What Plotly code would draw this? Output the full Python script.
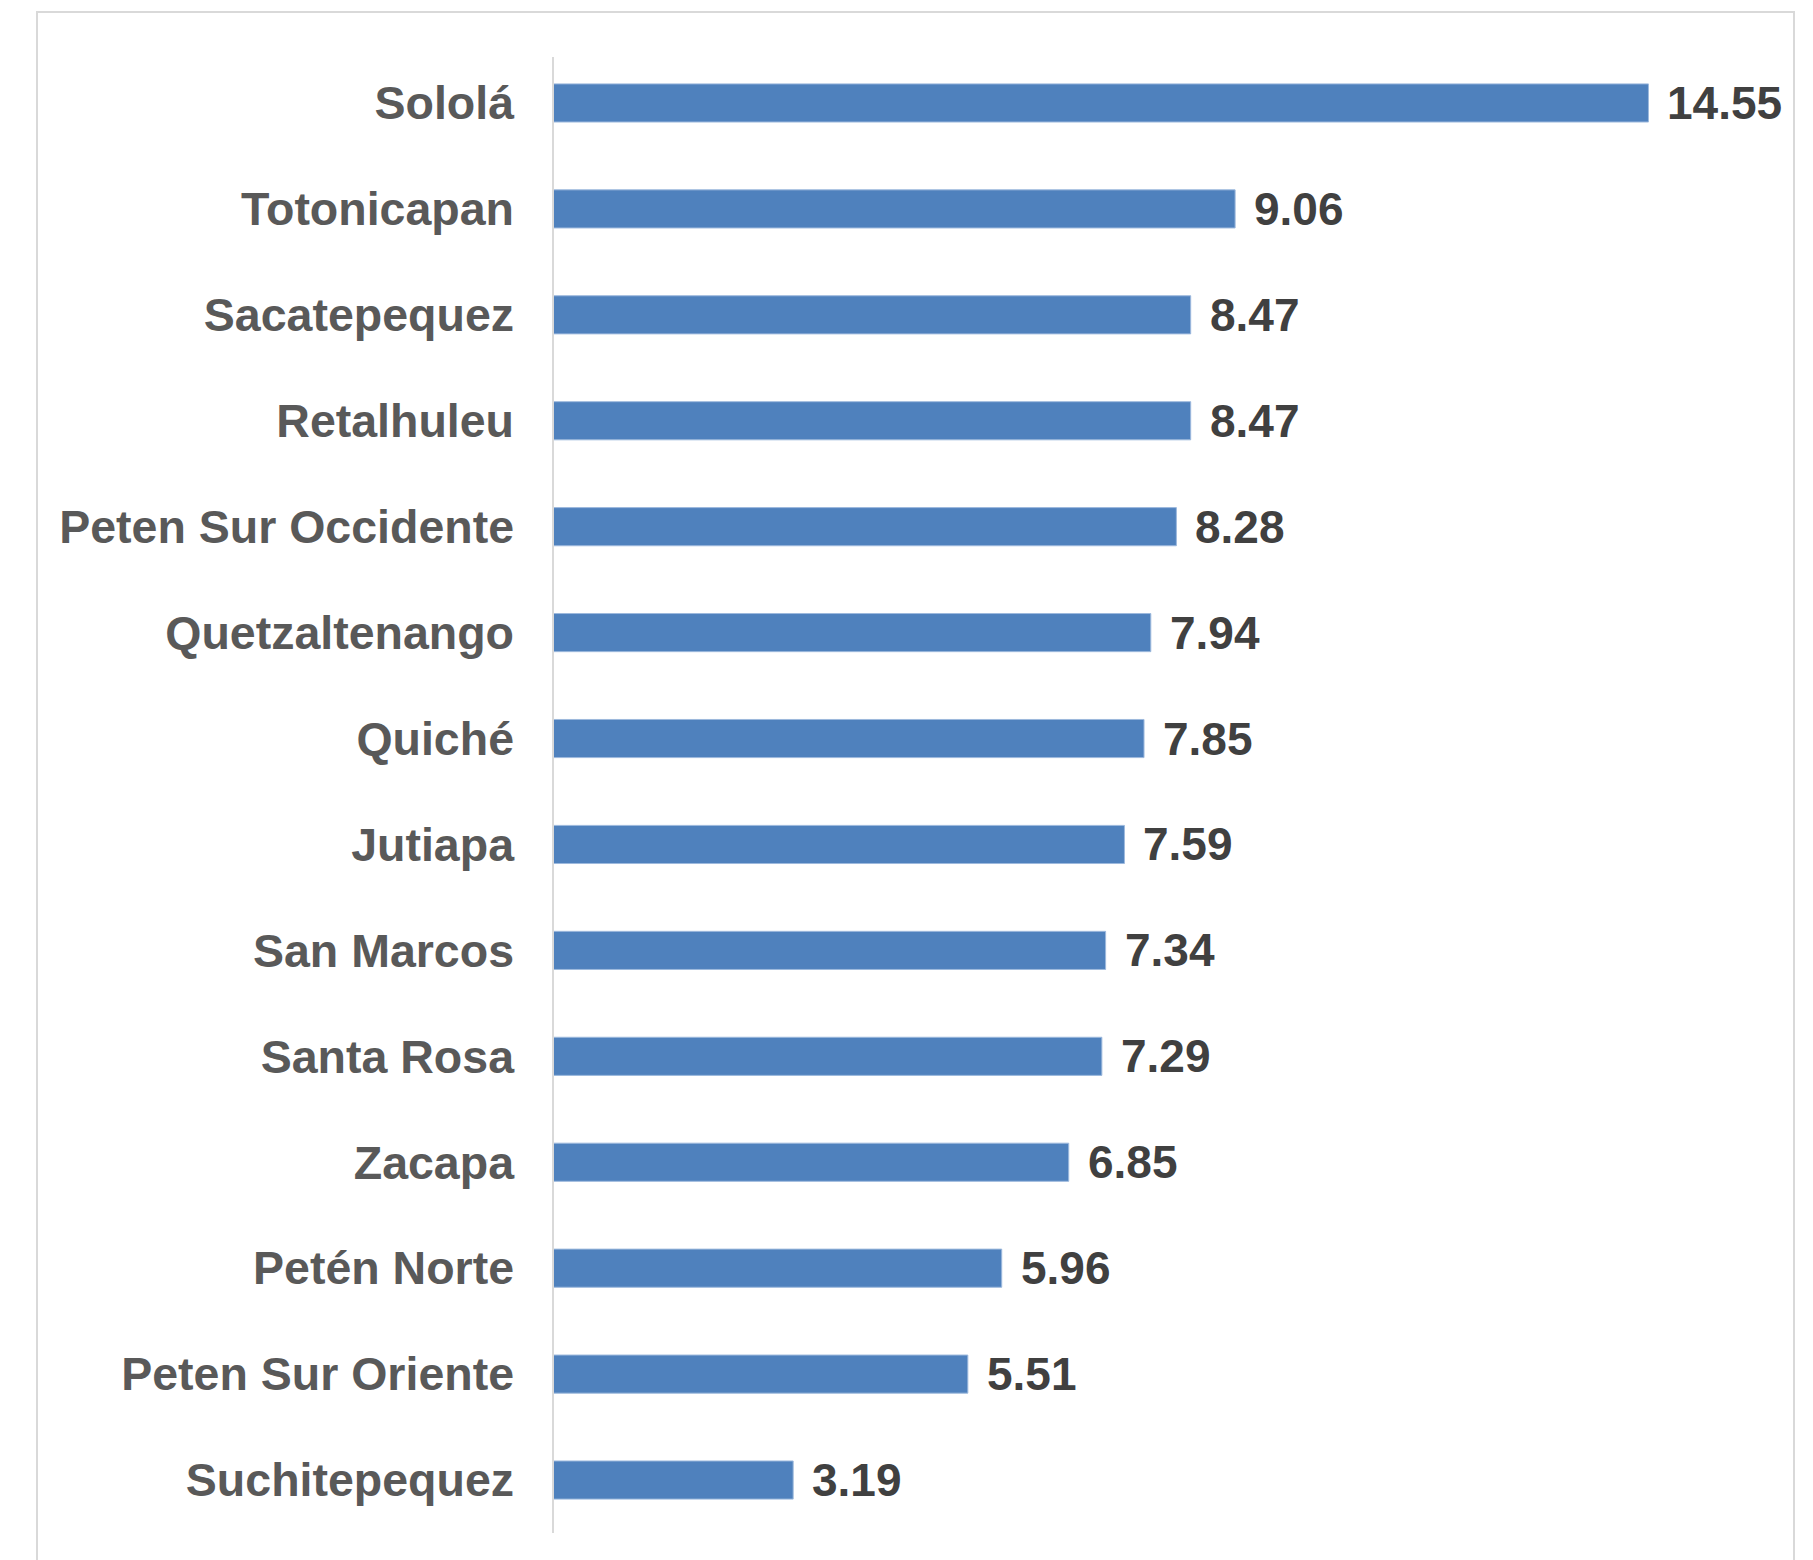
import plotly.graph_objects as go

categories = ["Sololá", "Totonicapan", "Sacatepequez", "Retalhuleu", "Peten Sur Occidente",
              "Quetzaltenango", "Quiché", "Jutiapa", "San Marcos", "Santa Rosa", "Zacapa",
              "Petén Norte", "Peten Sur Oriente", "Suchitepequez"]
values = [14.55, 9.06, 8.47, 8.47, 8.28, 7.94, 7.85, 7.59, 7.34, 7.29, 6.85, 5.96, 5.51, 3.19]
value_labels = [f"{v:.2f}" for v in values]

OFF = 8  # default page body margin
W, H = 1813 - OFF, 1560 - OFF
L, T = 553 - OFF, 50 - OFF
R = W - (1790 - OFF)
B = H - (1533 - OFF)
pw, ph = W - L - R, H - T - B
xmax = 16.43

fig = go.Figure(go.Bar(
    x=values, y=categories, orientation="h",
    marker=dict(color="#4F81BD", line=dict(color="#9DB9DD", width=1)),
    width=0.36, hoverinfo="skip",
))

annotations = [dict(x=v, y=c, text=t, xref="x", yref="y", showarrow=False,
                    xanchor="left", yanchor="middle", xshift=17,
                    font=dict(family="Liberation Sans, Arial, sans-serif", size=46,
                              color="#404040", weight="bold"))
               for v, c, t in zip(values, categories, value_labels)]

def px2paper_x(px):
    return (px - OFF - L) / pw

def px2paper_y(py):
    return (H - B - (py - OFF)) / ph

shapes = [
    dict(type="rect", xref="paper", yref="paper",
         x0=px2paper_x(37), x1=px2paper_x(1794), y0=px2paper_y(1575), y1=px2paper_y(12),
         line=dict(color="#D9D9D9", width=2), fillcolor="rgba(0,0,0,0)", layer="below"),
    dict(type="line", xref="paper", yref="paper",
         x0=0, x1=0, y0=0, y1=px2paper_y(57),
         line=dict(color="#D9D9D9", width=2)),
]

fig.update_layout(
    width=W, height=H,
    margin=dict(l=L, r=R, t=T, b=B),
    paper_bgcolor="white", plot_bgcolor="white",
    showlegend=False,
    annotations=annotations, shapes=shapes,
    xaxis=dict(range=[0, xmax], visible=False, fixedrange=True),
    yaxis=dict(autorange="reversed", showgrid=False, zeroline=False, showline=False,
               ticks="", ticklabelstandoff=38,
               tickfont=dict(family="Liberation Sans, Arial, sans-serif", size=46.5,
                             color="#595959", weight="bold"),
               fixedrange=True),
    font=dict(family="Liberation Sans, Arial, sans-serif"),
)

fig.write_html("out.html")
